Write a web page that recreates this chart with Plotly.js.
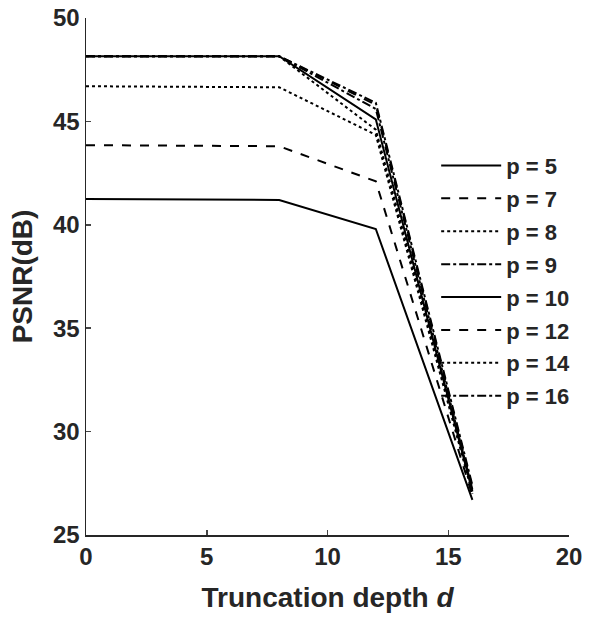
<!DOCTYPE html>
<html><head><meta charset="utf-8">
<script src="https://cdn.plot.ly/plotly-3.0.1.min.js"></script>
<style>body{margin:0;padding:0;background:#fff}</style>
</head><body>
<div id="chart" style="width:605px;height:620px"></div>
<script>
const depth = [0, 8, 12, 16];
const seriesNames = ['p = 5','p = 7','p = 8','p = 9','p = 10','p = 12','p = 14','p = 16'];
const p5  = [41.25, 41.2, 39.8, 26.7];
const p7  = [43.85, 43.8, 42.1, 26.9];
const p8  = [46.7, 46.65, 44.35, 27.0];
const p9  = [48.15, 48.15, 45.6, 27.2];
const p10 = [48.15, 48.15, 45.1, 27.1];
const p12 = [48.15, 48.15, 45.8, 27.3];
const p14 = [48.15, 48.15, 44.6, 27.2];
const p16 = [48.15, 48.15, 45.9, 27.4];
const xTicks = [0, 5, 10, 15, 20];
const yTicks = [25, 30, 35, 40, 45, 50];

const values = [p5, p7, p8, p9, p10, p12, p14, p16];
const dashes = ['solid','dash','dot','dashdot','solid','dash','dot','dashdot'];
const font = {family: 'Liberation Sans, Arial, sans-serif', color: '#262626'};

const traces = values.map((v, i) => ({
  x: depth, y: v, type: 'scatter', mode: 'lines', name: seriesNames[i],
  legendgroup: 'g' + i,
  line: {color: '#000', width: 2, dash: dashes[i]}
}));

const layout = {
  width: 605, height: 620,
  margin: {l: 86, r: 36, t: 18, b: 85},
  paper_bgcolor: '#fff', plot_bgcolor: '#fff',
  font: font,
  showlegend: true,
  legend: {x: 0.725, y: 0.755, xanchor: 'left', yanchor: 'top', bgcolor: 'rgba(0,0,0,0)',
    itemwidth: 60, traceorder: 'grouped', tracegroupgap: 1.3,
    font: {family: font.family, size: 22, color: '#262626', weight: 'bold'}},
  xaxis: {range: [0, 20], tickvals: xTicks, ticks: 'inside', ticklen: 5, tickwidth: 1.5,
    showline: true, linecolor: '#262626', linewidth: 1.5, showgrid: false, zeroline: false,
    tickfont: {family: font.family, size: 24, color: '#262626', weight: 'bold'},
    title: {text: 'Truncation depth <i>d</i>', standoff: 18,
      font: {family: font.family, size: 28, color: '#262626', weight: 'bold'}}},
  yaxis: {range: [25, 50], tickvals: yTicks, ticks: 'inside', ticklen: 5, tickwidth: 1.5,
    showline: true, linecolor: '#262626', linewidth: 1.5, showgrid: false, zeroline: false,
    tickfont: {family: font.family, size: 24, color: '#262626', weight: 'bold'},
    title: {text: 'PSNR(dB)', standoff: 12,
      font: {family: font.family, size: 28, color: '#262626', weight: 'bold'}}}
};
Plotly.newPlot('chart', traces, layout, {displayModeBar: false, staticPlot: true});
</script>
</body></html>
